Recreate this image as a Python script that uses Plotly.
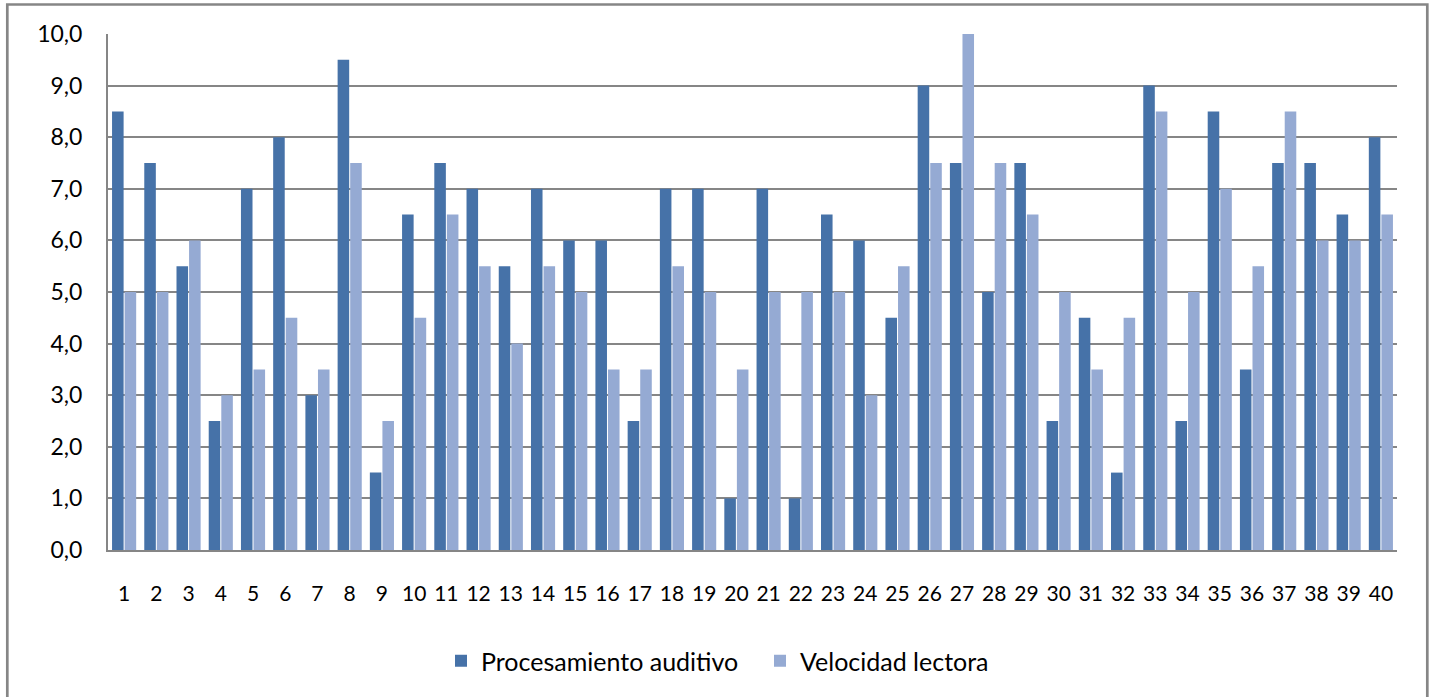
import plotly.graph_objects as go

categories = [str(i) for i in range(1, 41)]
procesamiento = [8.5, 7.5, 5.5, 2.5, 7, 8, 3, 9.5, 1.5, 6.5,
                 7.5, 7, 5.5, 7, 6, 6, 2.5, 7, 7, 1,
                 7, 1, 6.5, 6, 4.5, 9, 7.5, 5, 7.5, 2.5,
                 4.5, 1.5, 9, 2.5, 8.5, 3.5, 7.5, 7.5, 6.5, 8]
velocidad = [5, 5, 6, 3, 3.5, 4.5, 3.5, 7.5, 2.5, 4.5,
             6.5, 5.5, 4, 5.5, 5, 3.5, 3.5, 5.5, 5, 3.5,
             5, 5, 5, 3, 5.5, 7.5, 10, 7.5, 6.5, 5,
             3.5, 4.5, 8.5, 5, 7, 5.5, 8.5, 6, 6, 6.5]
y_ticks = [0, 1, 2, 3, 4, 5, 6, 7, 8, 9, 10]

fig = go.Figure()
fig.add_trace(go.Bar(x=categories, y=procesamiento, name="Procesamiento auditivo",
                     marker=dict(color="#4672A8", line=dict(width=0))))
fig.add_trace(go.Bar(x=categories, y=velocidad, name="Velocidad lectora",
                     marker=dict(color="#95AAD3", line=dict(width=0))))

L, R, T, B = 108, 38, 34, 147
W, H = 1435, 697
pw, ph = W - L - R, H - T - B

def px(x):
    return (x - L) / pw

def py(y):
    return (H - B - y) / ph

fig.add_shape(type="rect", xref="paper", yref="paper",
              x0=px(7.3), x1=px(1427.3), y0=py(705), y1=py(4.5),
              line=dict(color="#868686", width=2.7), layer="below")

fig.update_layout(
    width=W, height=H,
    margin=dict(l=L, r=R, t=T, b=B),
    paper_bgcolor="white", plot_bgcolor="white",
    barmode="group", bargap=0.22, bargroupgap=0.08,
    separators=",.",
    font=dict(family="Lato, Open Sans, sans-serif", size=21, color="#000000"),
    showlegend=True,
    legend=dict(orientation="h", x=px(441), xanchor="left", y=py(661), yanchor="middle",
                font=dict(size=25), itemwidth=30, bgcolor="rgba(0,0,0,0)",
                traceorder="normal", entrywidthmode="pixels", entrywidth=274),
    xaxis=dict(type="category", showline=True, linecolor="#868686", linewidth=2,
               ticks="", showgrid=False, ticklabelstandoff=24, tickangle=0,
               tickfont=dict(size=21)),
    yaxis=dict(range=[0, 10], tickvals=y_ticks, tickformat=".1f", showline=True,
               linecolor="#868686", linewidth=2, showgrid=True, gridcolor="#868686",
               gridwidth=1.5, ticks="", zeroline=False, ticklabelstandoff=19,
               tickfont=dict(size=23)),
)

fig.write_html("out.html", config={"displayModeBar": False},
               post_script="document.body.style.margin='0';document.body.style.overflow='hidden';")
